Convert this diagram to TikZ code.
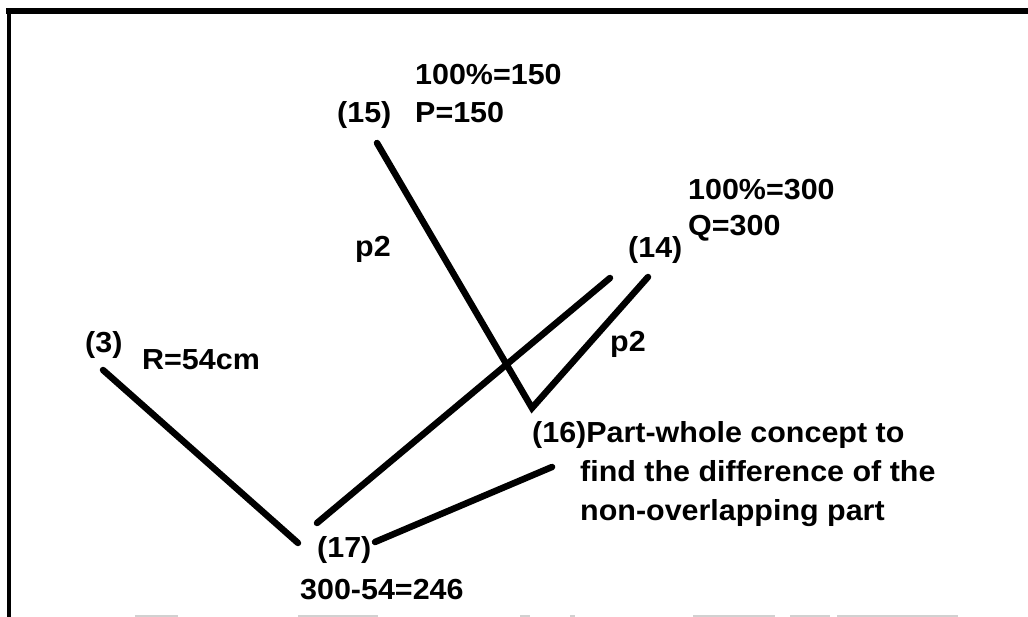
\documentclass[tikz,border=0pt]{standalone}
\usepackage{fontspec}
\setmainfont{Liberation Sans}[FakeStretch=1.05]
\begin{document}
\begin{tikzpicture}[x=1pt,y=-1pt,
  lbl/.style={anchor=base west,inner sep=0pt,font=\fontsize{29}{35}\selectfont\bfseries},
  conn/.style={line width=6.5pt,line cap=round,line join=miter},
  scanline/.style={line width=1.2pt,black!18}]
\useasboundingbox (0,0) rectangle (1028,617);
% frame
\draw[line width=6pt] (6,11) -- (1028,11);
\draw[line width=4pt] (9,9) -- (9,617);
\foreach \a/\b in {135/178,298/378,520/530,570/575,693/775,790/830,837/958}
  \draw[scanline] (\a,616) -- (\b,616);
% labels
\node[lbl] (t100a) at (415,85) {100\%=150};
\node[lbl] (n15) at (337,123) {(15)};
\node[lbl] (tP) at (415,123) {P=150};
\node[lbl] (t100b) at (688,200) {100\%=300};
\node[lbl] (tQ) at (688,236) {Q=300};
\node[lbl] (n14) at (628,258) {(14)};
\node[lbl] (p2a) at (355,257) {p2};
\node[lbl] (p2b) at (610,352) {p2};
\node[lbl] (n3) at (85,353) {(3)};
\node[lbl] (tR) at (142,370) {R=54cm};
\node[lbl] (n16) at (532,442) {(16)Part-whole concept to};
\node[lbl] (n16b) at (580,481) {find the difference of the};
\node[lbl] (n16c) at (580,520) {non-overlapping part};
\node[lbl] (n17) at (317,557) {(17)};
\node[lbl] (t246) at (300,599) {300-54=246};
% connector end points
\coordinate (c3) at (103,370);
\coordinate (c17a) at (298,543);
\coordinate (c17b) at (317,523);
\coordinate (c17c) at (375,542);
\coordinate (c16a) at (532,408);
\coordinate (c16b) at (552,467);
\coordinate (c15) at (377,143);
\coordinate (c14a) at (610,278);
\coordinate (c14b) at (648,277);
% connectors
\draw[conn] (c3) -- (c17a);
\draw[conn] (c17b) -- (c14a);
\draw[conn] (c17c) -- (c16b);
\draw[conn] (c15) -- (c16a) -- (c14b);
\end{tikzpicture}
\end{document}
